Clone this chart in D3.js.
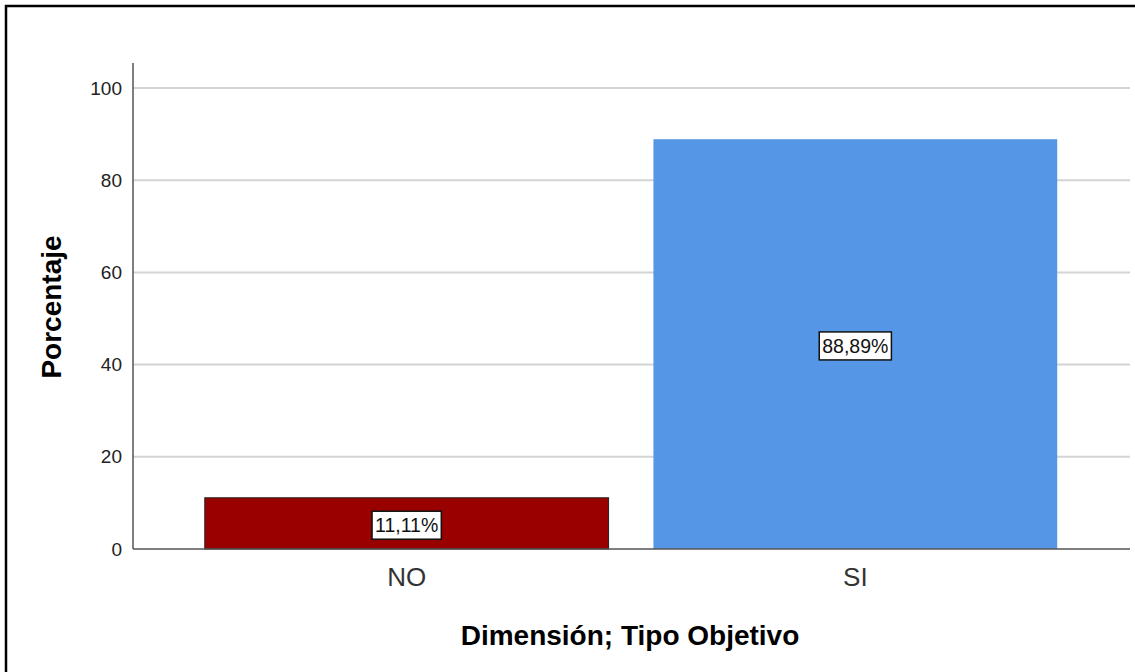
<!DOCTYPE html>
<html><head><meta charset="utf-8">
<script src="https://cdn.jsdelivr.net/npm/d3@7"></script>
<style>body{margin:0;background:#fff;}svg{display:block;font-family:"Liberation Sans",Arial,sans-serif;}</style>
</head><body>
<svg id="c" width="1135" height="672"></svg>
<script>
const categories = ["NO", "SI"];
const values = [11.11, 88.89];
const labels = ["11,11%", "88,89%"];
const colors = ["#990000", "#5596E6"];
const yTicks = [0, 20, 40, 60, 80, 100];

const svg = d3.select("#c");
svg.append("rect").attr("x",6).attr("y",6).attr("width",1140).attr("height",680)
  .attr("fill","none").attr("stroke","#000").attr("stroke-width",2.5);

const x = d3.scaleBand().domain(categories).range([133,1129]).paddingInner(0.1).paddingOuter(0.16);
const y = d3.scaleLinear().domain([0,100]).range([549,88]);

// gridlines
svg.append("g").selectAll("line").data(yTicks.filter(t=>t>0)).join("line")
  .attr("x1",133).attr("x2",1130).attr("y1",d=>y(d)).attr("y2",d=>y(d))
  .attr("stroke","#d4d4d4").attr("stroke-width",2);

// bars
svg.append("g").selectAll("rect").data(categories).join("rect")
  .attr("x",d=>x(d)).attr("width",x.bandwidth())
  .attr("y",(d,i)=>y(values[i])).attr("height",(d,i)=>y(0)-y(values[i]))
  .attr("fill",(d,i)=>colors[i])
  .attr("stroke",(d,i)=>i===0?"#222":"none").attr("stroke-width",1);

// baseline
svg.append("line").attr("x1",133).attr("x2",1130).attr("y1",y(0)).attr("y2",y(0))
  .attr("stroke","#555").attr("stroke-width",1.5);

// y axis
const yAxis = d3.axisLeft(y).tickValues(yTicks).tickSize(0).tickPadding(11);
const ga = svg.append("g").attr("transform","translate(133,0)").call(yAxis);
ga.select(".domain").remove();
ga.selectAll("text").attr("font-size",19).attr("fill","#222").attr("font-family","Liberation Sans, Arial, sans-serif");
svg.append("line").attr("x1",133).attr("x2",133).attr("y1",63).attr("y2",549).attr("stroke","#555").attr("stroke-width",1.5);

// x axis labels
const xAxis = d3.axisBottom(x).tickSize(0).tickPadding(19);
const gx = svg.append("g").attr("transform","translate(0,549)").call(xAxis);
gx.select(".domain").remove();
gx.selectAll("text").attr("font-size",26).attr("fill","#333").attr("font-family","Liberation Sans, Arial, sans-serif");

// data labels
const lg = svg.append("g").selectAll("g").data(categories).join("g")
  .attr("transform",(d,i)=>`translate(${x(d)+x.bandwidth()/2},${y(values[i]/2)+2})`);
lg.each(function(d,i){
  const g = d3.select(this);
  const t = g.append("text").text(labels[i]).attr("text-anchor","middle").attr("dy","0.35em")
    .attr("font-size",19.5).attr("fill","#111");
  const bb = t.node().getBBox();
  g.insert("rect","text").attr("x",bb.x-3).attr("y",bb.y-3).attr("width",bb.width+6).attr("height",bb.height+6)
    .attr("fill","#fff").attr("stroke","#111").attr("stroke-width",1.5);
});

// axis titles
svg.append("text").attr("x",630).attr("y",645).attr("text-anchor","middle")
  .attr("font-size",28).attr("font-weight","bold").attr("fill","#000").text("Dimensión; Tipo Objetivo");
svg.append("text").attr("transform","translate(61,307) rotate(-90)").attr("text-anchor","middle")
  .attr("font-size",28).attr("font-weight","bold").attr("fill","#000").text("Porcentaje");
</script>
</body></html>
